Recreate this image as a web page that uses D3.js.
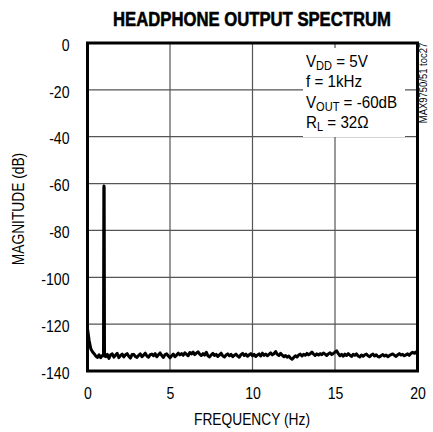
<!DOCTYPE html>
<html>
<head>
<meta charset="utf-8">
<script src="https://cdn.jsdelivr.net/npm/d3@7"></script>
<style>
  html, body { margin: 0; padding: 0; background: #fff; }
  svg { display: block; }
  text { font-family: "Liberation Sans", Arial, sans-serif; fill: #000; }
</style>
</head>
<body>
<svg id="chart" width="433" height="432"></svg>
<script>
// ---- Data ----
const title = "HEADPHONE OUTPUT SPECTRUM";
const xLabel = "FREQUENCY (Hz)";
const yLabel = "MAGNITUDE (dB)";
const xTicks = [0, 5, 10, 15, 20];
const yTicks = [0, -20, -40, -60, -80, -100, -120, -140];
const freqStep = 0.1; // Hz between noise-floor samples
// noise floor magnitude (dB), samples at 0.0, 0.1, ... 20.0
const noiseMag = [
  -122, -127, -130.5, -131.8, -132.6, -133.6, -134.2, -133.1, -134.3, -133.4,
  -133.2, -133.9, -132.9, -134.6, -133.1, -132.7, -134.1, -133.2, -132.5, -134.3,
  -133.4, -132.8, -134.0, -133.1, -132.6, -133.7, -134.5, -133.0, -132.9, -133.8,
  -134.2, -133.3, -132.7, -133.9, -133.2, -132.4, -133.6, -134.1, -133.0, -132.8,
  -133.5, -132.6, -133.9, -133.1, -132.3, -133.4, -134.2, -133.0, -132.7, -133.6,
  -134.4, -133.5, -132.8, -133.9, -133.2, -132.4, -133.1, -132.6, -133.3, -132.2,
  -132.9, -133.5, -132.1, -132.7, -131.9, -133.0, -132.4, -131.8, -132.8, -133.4,
  -132.6, -133.2, -132.0, -133.5, -134.0, -133.1, -132.5, -133.4, -132.9, -133.8,
  -133.1, -132.4, -133.6, -134.0, -133.2, -132.7, -133.5, -132.9, -133.9, -133.3,
  -132.8, -133.6, -134.1, -133.0, -132.5, -133.4, -132.8, -133.7, -133.1, -132.6,
  -133.5, -132.9, -133.8, -133.2, -132.7, -133.6, -132.4, -133.3, -132.8, -133.5,
  -132.9, -132.3, -133.1, -132.6, -131.7, -132.9, -133.4, -132.5, -133.2, -133.9,
  -133.4, -134.1, -133.6, -134.5, -135.0, -134.2, -133.5, -134.0, -133.2, -132.8,
  -133.6, -132.9, -133.3, -132.5, -133.1, -132.6, -131.9, -132.8, -133.4, -132.7,
  -133.2, -132.6, -133.0, -132.3, -132.8, -133.4, -132.7, -132.2, -133.0, -132.5,
  -131.9, -131.4, -132.6, -133.5, -132.9, -133.7, -132.8, -133.4, -132.6, -133.2,
  -133.8, -132.9, -133.3, -132.7, -133.6, -134.0, -133.2, -133.7, -133.1, -132.8,
  -133.5, -133.9, -133.2, -132.8, -133.6, -133.1, -133.8, -134.0, -133.4, -133.0,
  -133.6, -133.2, -133.9, -133.4, -133.0, -132.7, -133.3, -133.8, -133.1, -132.6,
  -133.2, -132.9, -133.5, -133.1, -132.7, -133.3, -132.5, -132.0, -132.4, -131.9,
  -133.0
];
// fundamental tone spike
const peakFreq = [0.97, 0.99, 1.0, 1.01, 1.03];
const peakMag  = [-133.5, -62, -61, -62, -133.5];
// annotation lines: [main, subscript, rest]
const notes = [
  ["V", "DD", " = 5V"],
  ["f = 1kHz", "", ""],
  ["V", "OUT", " = -60dB"],
  ["R", "L", " = 32\u03A9"]
];
const sideNote = "MAX9750/51 toc27";

// ---- Layout ----
const svg = d3.select("#chart");
const m = { left: 87.5, right: 417.5, top: 43, bottom: 371 };
const x = d3.scaleLinear().domain([0, 20]).range([m.left, m.right]);
const y = d3.scaleLinear().domain([-140, 0]).range([m.bottom, m.top]);

// narrow text via textLength (no condensed fonts installed)
function condense(sel, f) {
  sel.each(function () {
    const w = this.getComputedTextLength();
    d3.select(this).attr("textLength", w * f).attr("lengthAdjust", "spacingAndGlyphs");
  });
}

// grid
const grid = svg.append("g");
grid.selectAll("line.v").data(xTicks.slice(1, -1)).enter().append("line")
  .attr("x1", d => x(d)).attr("x2", d => x(d))
  .attr("y1", m.top).attr("y2", m.bottom)
  .attr("stroke", "#555").attr("stroke-width", 1.2);
grid.selectAll("line.h").data(yTicks.slice(1, -1)).enter().append("line")
  .attr("x1", m.left).attr("x2", m.right)
  .attr("y1", d => y(d)).attr("y2", d => y(d))
  .attr("stroke", "#555").attr("stroke-width", 1.2);

// data series
const pts = noiseMag.map((v, i) => [i * freqStep, v]);
const peakPts = peakFreq.map((f, i) => [f, peakMag[i]]);
const series = pts.filter(p => p[0] < 0.95).concat(peakPts, pts.filter(p => p[0] > 1.05));
const line = d3.line().x(d => x(d[0])).y(d => y(d[1]));
svg.append("path").datum(series)
  .attr("d", line).attr("fill", "none")
  .attr("stroke", "#000").attr("stroke-width", 3).attr("stroke-linejoin", "round");

// annotation box
svg.append("rect").attr("x", 303).attr("y", 48).attr("width", 102).attr("height", 89).attr("fill", "#fff");
const noteG = svg.append("g");
notes.forEach((n, i) => {
  const t = noteG.append("text").attr("x", 306).attr("y", 67 + i * 20.3).attr("font-size", 16.5)
    .attr("transform", `translate(306,0) scale(0.92,1) translate(-306,0)`);
  t.append("tspan").text(n[0]);
  if (n[1]) t.append("tspan").attr("font-size", 12).attr("dy", 3).text(n[1]);
  if (n[2]) t.append("tspan").attr("dy", n[1] ? -3 : 0).text(n[2]);
});

// frame
svg.append("rect").attr("x", m.left).attr("y", m.top)
  .attr("width", m.right - m.left).attr("height", m.bottom - m.top)
  .attr("fill", "none").attr("stroke", "#000").attr("stroke-width", 3);

// axes (labels only)
const xAxis = d3.axisBottom(x).tickValues(xTicks).tickSize(0).tickPadding(17).tickFormat(d => String(d));
svg.append("g").attr("transform", `translate(0,${m.bottom})`).call(xAxis)
  .call(g => g.select(".domain").remove())
  .selectAll("text").attr("font-size", 16).attr("font-family", null).call(condense, 0.88);
const yAxis = d3.axisLeft(y).tickValues(yTicks).tickSize(0).tickPadding(18).tickFormat(d => String(d));
svg.append("g").attr("transform", `translate(${m.left},0)`).call(yAxis)
  .call(g => g.select(".domain").remove())
  .selectAll("text").attr("font-size", 16).attr("font-family", null).attr("dy", "0.45em").call(condense, 0.88);

// titles
const tt = svg.append("text").attr("x", 0).attr("y", 0).attr("text-anchor", "middle")
  .attr("font-size", 21).attr("font-weight", "bold")
  .attr("stroke", "#000").attr("stroke-width", 0.6).text(title);
const tw = tt.node().getComputedTextLength();
tt.attr("transform", `translate(252,26) scale(${278 / tw},1)`);
svg.append("text").attr("x", 252).attr("y", 425).attr("text-anchor", "middle")
  .attr("font-size", 16).text(xLabel).call(condense, 0.86);
svg.append("text").attr("transform", "translate(24,209) rotate(-90)").attr("text-anchor", "middle")
  .attr("font-size", 16).text(yLabel).call(condense, 0.86);
svg.append("text").attr("transform", "translate(427,83) rotate(-90)").attr("text-anchor", "middle")
  .attr("font-size", 11).attr("fill", "#222").text(sideNote).call(condense, 0.86);
</script>
</body>
</html>
